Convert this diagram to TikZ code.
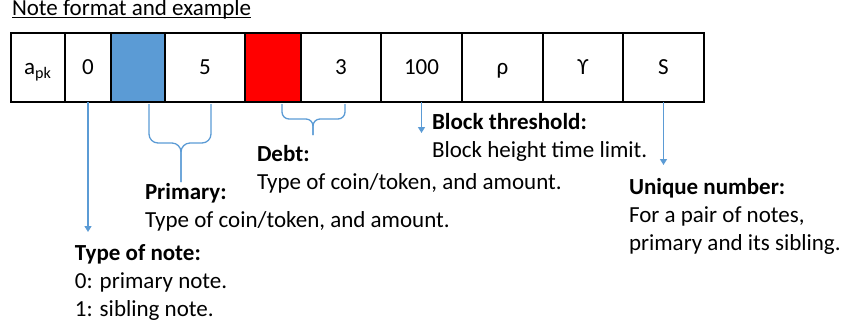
\documentclass[tikz,border=0pt]{standalone}
\usepackage{fontspec}
\setmainfont{Carlito}
\usepackage{xcolor}
\usepackage{tikz}
\usetikzlibrary{calc,arrows,arrows.meta,positioning}
\definecolor{noteblue}{HTML}{5B9BD5}
\tikzset{
  cell/.style={draw, line width=0.75pt, minimum height=34.5pt, inner sep=0pt,
    text height=7.2pt, text depth=0pt, font=\fontsize{11.5}{14}\selectfont},
  txt/.style={align=left, inner sep=0pt, anchor=base west, font=\fontsize{11.5}{14}\selectfont},
  link/.style={draw=noteblue, line width=0.65pt},
  arr/.style={link, -{Triangle[width=3.5pt,length=3pt]}},
  brc/.style={link, rounded corners=3.5pt}
}

\begin{document}
\begin{tikzpicture}[x=0.5pt,y=-0.5pt,node distance=0pt,outer sep=0pt]
    \useasboundingbox (0,0) rectangle (843,329);
    \node (title) [txt] at (12,15) {Note format and example};
    \draw[line width=0.6pt] ([yshift=-1.3pt]title.base west) -- ([yshift=-1.3pt]title.base east);
    % the note fields
    \node (apk) [cell,minimum width=27pt,anchor=north west] at (11,33) {a\textsubscript{pk}};
    \node (kind) [cell,minimum width=23pt,right=of apk] {0};
    \node (coin) [cell,minimum width=27pt,right=of kind,fill=noteblue] {};
    \node (amt) [cell,minimum width=40pt,right=of coin] {5};
    \node (debtcoin) [cell,minimum width=28pt,right=of amt,fill=red] {};
    \node (debtamt) [cell,minimum width=40pt,right=of debtcoin] {3};
    \node (limit) [cell,minimum width=40.5pt,right=of debtamt] {100};
    \node (rho) [cell,minimum width=40.5pt,right=of limit] {ρ};
    \node (ups) [cell,minimum width=40pt,right=of rho] {ϒ};
    \node (sid) [cell,minimum width=40.5pt,right=of ups] {S};
    % the explanations (anchored at the last line)
    \node (typenote) [txt] at (75,316) {\textbf{Type of note:}\\0: primary note.\\1: sibling note.};
    \node (primary) [txt] at (145,227) {\textbf{Primary:}\\Type of coin/token, and amount.};
    \node (debt) [txt] at (257,189) {\textbf{Debt:}\\Type of coin/token, and amount.};
    \node (threshold) [txt] at (432,157) {\textbf{Block threshold:}\\Block height time limit.};
    \node (unique) [txt] at (629,250) {\textbf{Unique number:}\\For a pair of notes,\\primary and its sibling.};
    \coordinate[below=65pt of kind.south] (kindend);
    \coordinate[below=15.5pt of limit.south] (limitend);
    \coordinate[below=31.5pt of sid.south] (sidend);
    \path (kind) edge [arr] (kindend);
    \path (limit) edge [arr] (limitend);
    \path (sid) edge [arr] (sidend);
    % braces
    \coordinate (pl) at (149,104);
    \coordinate (pr) at (211,104);
    \coordinate (pm) at (181,143);
    \coordinate (ptip) at (181,182);
    \draw[brc,rounded corners=4.5pt] (pl) |- (pm) -- (ptip);
    \draw[brc,rounded corners=4.5pt] (pr) |- (pm) -- (ptip);
    \coordinate (dl) at (282,104);
    \coordinate (dr) at (345,104);
    \coordinate (dm) at (313,119);
    \coordinate (dtip) at (313,135);
    \draw[brc] (dl) |- (dm) -- (dtip);
    \draw[brc] (dr) |- (dm) -- (dtip);
\end{tikzpicture}
\end{document}
